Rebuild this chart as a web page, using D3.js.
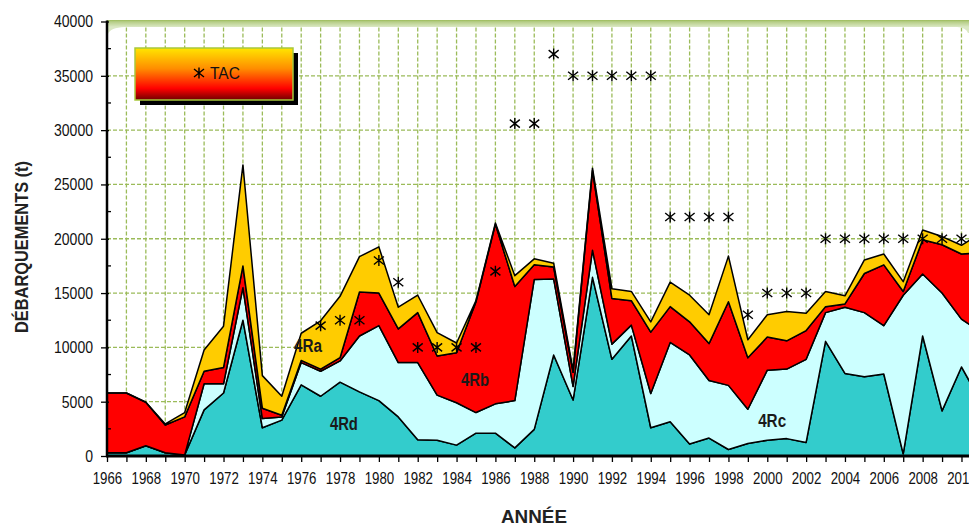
<!DOCTYPE html>
<html>
<head>
<meta charset="utf-8">
<script src="https://cdn.jsdelivr.net/npm/d3@7"></script>
<style>
  body { margin: 0; background: #fff; }
  svg { display: block; }
  .narrow { font-family: "Liberation Sans Narrow", "Arial Narrow", "Liberation Sans", Arial, sans-serif; }
</style>
</head>
<body>
<svg id="chart" width="969" height="527"></svg>
<script>
// years on the x axis
const years = d3.range(1966, 2012);

// landings by division (t), stacked from bottom to top
const r4Rd = [300,300,950,300,100,4250,5800,12500,2600,3300,
              6550,5500,6800,5900,5100,3600,1500,1450,1000,2100,
              2100,750,2450,9300,5150,16450,8900,11050,2600,3150,
              1100,1650,600,1150,1450,1600,1250,10550,7600,7300,
              7550,200,11050,4150,8200,5000];
const r4Rc = [0,0,0,0,0,2400,850,3000,850,300,
              2050,2300,1950,5150,6900,5000,7100,4150,3900,1900,
              2700,4350,13800,7000,1250,2500,1400,1000,3150,7300,
              8200,5300,5900,3150,6450,6400,7650,2650,6100,5900,
              4450,14600,5700,10850,4400,6400];
const r4Rb = [5500,5500,4000,2550,3500,1150,1500,2000,950,150,
              200,200,300,4050,3000,3100,4600,3600,4600,10200,
              16550,10500,1350,1100,1300,7350,4200,2250,5650,3300,
              3050,3400,7700,4750,3050,2600,2650,550,300,3600,
              5600,350,3150,4450,6000,7300];
const r4Ra = [0,0,0,100,400,1950,3800,9300,3000,1750,
              2500,4450,5650,3250,4250,2000,1600,2150,900,100,
              100,1000,550,350,200,200,900,850,950,2250,
              2450,2650,4200,1650,2050,2700,1600,1400,750,1250,
              1000,900,900,750,800,1800];

// TAC
const tacYears = d3.range(1977, 2012);
const tacValues = [12000,12500,12500,18000,16000,10000,10000,10000,10000,17000,
                   30600,30600,37000,35000,35000,35000,35000,35000,22000,22000,
                   22000,22000,13000,15000,15000,15000,20000,20000,20000,20000,
                   20000,20000,20000,20000,20000];

const layerKeys = ["4Rd", "4Rc", "4Rb", "4Ra"];
const layerColors = {"4Rd": "#33cccc", "4Rc": "#ccffff", "4Rb": "#ff0000", "4Ra": "#ffcc00"};
const yTicks = d3.range(0, 40001, 5000);

const W = 969, H = 527;
const x0 = 107, yBase = 456, yTop = 21.5, step = 19.42;

let svg = d3.select("#chart");

let x = d3.scaleLinear().domain([1966, 2011]).range([x0, x0 + 45 * step]);
let y = d3.scaleLinear().domain([0, 40000]).range([yBase, yTop]);

let defs = svg.append("defs");
defs.append("clipPath").attr("id", "plotclip")
  .append("rect").attr("x", x0).attr("y", 0).attr("width", W - x0).attr("height", yBase);

let lg = defs.append("linearGradient").attr("id", "legGrad").attr("x1", 0).attr("y1", 0).attr("x2", 0).attr("y2", 1);
lg.append("stop").attr("offset", "0%").attr("stop-color", "#ffe600");
lg.append("stop").attr("offset", "40%").attr("stop-color", "#ff8c00");
lg.append("stop").attr("offset", "78%").attr("stop-color", "#ff0000");
lg.append("stop").attr("offset", "100%").attr("stop-color", "#700000");

let bg = defs.append("linearGradient").attr("id", "bandGrad").attr("x1", 0).attr("y1", 0).attr("x2", 0).attr("y2", 1);
bg.append("stop").attr("offset", "0%").attr("stop-color", "#9bbb59");
bg.append("stop").attr("offset", "25%").attr("stop-color", "#b5cd85");
bg.append("stop").attr("offset", "100%").attr("stop-color", "#dbe8c4");

// grid
let grid = svg.append("g").attr("clip-path", "url(#plotclip)");
grid.selectAll(".vgrid")
  .data(years.filter(d => d > 1966))
  .enter().append("line")
  .attr("x1", d => x(d)).attr("x2", d => x(d))
  .attr("y1", yTop).attr("y2", yBase)
  .attr("stroke", "#9bbb59").attr("stroke-width", 1.3)
  .attr("stroke-dasharray", "4,2");
grid.selectAll(".hgrid")
  .data(yTicks.filter(d => d > 0 && d < 40000))
  .enter().append("line")
  .attr("x1", x0).attr("x2", W)
  .attr("y1", d => y(d)).attr("y2", d => y(d))
  .attr("stroke", "#9bbb59").attr("stroke-width", 1.3)
  .attr("stroke-dasharray", "4,2");

// stacked areas
let table = years.map((yr, i) => ({year: yr, "4Rd": r4Rd[i], "4Rc": r4Rc[i], "4Rb": r4Rb[i], "4Ra": r4Ra[i]}));
let series = d3.stack().keys(layerKeys)(table);

let area = d3.area()
  .x(d => x(d.data.year))
  .y0(d => y(d[0]))
  .y1(d => y(d[1]));

let plot = svg.append("g").attr("clip-path", "url(#plotclip)");
plot.selectAll(".layer")
  .data(series)
  .enter().append("path")
  .attr("class", "layer")
  .attr("d", area)
  .attr("fill", d => layerColors[d.key])
  .attr("stroke", "#000")
  .attr("stroke-width", 1.5)
  .attr("stroke-linejoin", "round");

// top frame band
svg.append("rect").attr("x", x0).attr("y", 20).attr("width", W - x0).attr("height", 7)
  .attr("fill", "url(#bandGrad)");
svg.append("path").attr("d", `M${x0},27 L${x0 + 18},27 Q${x0 + 3},27.5 ${x0 + 1},34 L${x0},34 Z`)
  .attr("fill", "#dbe8c4");
svg.append("path").attr("d", `M${W},27 L${W - 12},27 Q${W - 3},27.5 ${W - 1},33 L${W},33 Z`)
  .attr("fill", "#dbe8c4");

// TAC markers
let star = "M0,-5.5V5.5M-5,-4L5,4M-5,4L5,-4";
svg.append("g").attr("clip-path", "url(#plotclip)")
  .selectAll(".tac")
  .data(tacYears.map((yr, i) => ({year: yr, v: tacValues[i]})))
  .enter().append("path")
  .attr("transform", d => `translate(${x(d.year)},${y(d.v)})`)
  .attr("d", star)
  .attr("fill", "none").attr("stroke", "#000").attr("stroke-width", 1.4);

// x axis
let xAxis = d3.axisBottom(x)
  .tickValues(years.filter(d => x(d) <= W))
  .tickSize(6)
  .tickFormat(d => d % 2 === 0 ? String(d) : "");
let gx = svg.append("g").attr("transform", `translate(0,${yBase})`).call(xAxis);
gx.select(".domain").remove();
gx.selectAll(".tick line").attr("stroke", "#000").attr("stroke-width", 1.3);
gx.selectAll(".tick text")
  .attr("class", "narrow")
  .attr("font-size", 17).attr("fill", "#111").attr("y", 15.5)
  .filter(d => d % 2 === 0)
  .attr("textLength", 29.5).attr("lengthAdjust", "spacingAndGlyphs");
svg.append("line").attr("x1", x0 - 1).attr("x2", W).attr("y1", yBase).attr("y2", yBase)
  .attr("stroke", "#000").attr("stroke-width", 3);

// y axis
let yAxis = d3.axisLeft(y).tickValues(yTicks).tickSize(7).tickPadding(8).tickFormat(d3.format("d"));
let gy = svg.append("g").attr("transform", `translate(${x0 + 1},0)`).call(yAxis);
gy.select(".domain").remove();
gy.selectAll(".tick line").attr("stroke", "#000").attr("stroke-width", 1.3).attr("x2", -7).attr("x1", 1);
gy.selectAll(".tick text")
  .attr("class", "narrow")
  .attr("font-size", 17).attr("fill", "#111")
  .attr("textLength", d => String(d).length * 7.8).attr("lengthAdjust", "spacingAndGlyphs");
svg.append("g").selectAll(".minor")
  .data(yTicks.slice(0, -1).map(d => d + 2500))
  .enter().append("line")
  .attr("x1", x0).attr("x2", x0 + 4)
  .attr("y1", d => y(d)).attr("y2", d => y(d))
  .attr("stroke", "#000").attr("stroke-width", 1.3);
svg.append("line").attr("x1", x0).attr("x2", x0).attr("y1", yTop - 1).attr("y2", yBase + 1)
  .attr("stroke", "#000").attr("stroke-width", 2.5);

// area labels
let areaLabels = [
  {t: "4Ra", yr: 1976.35, v: 9600},
  {t: "4Rb", yr: 1984.95, v: 6450},
  {t: "4Rd", yr: 1978.2, v: 2400},
  {t: "4Rc", yr: 2000.25, v: 2700}
];
svg.selectAll(".alab")
  .data(areaLabels)
  .enter().append("text")
  .attr("class", "narrow")
  .attr("x", d => x(d.yr)).attr("y", d => y(d.v))
  .attr("text-anchor", "middle")
  .attr("font-size", 18).attr("font-weight", "bold").attr("fill", "#1a1a1a")
  .attr("textLength", 28).attr("lengthAdjust", "spacingAndGlyphs")
  .text(d => d.t);

// axis titles
svg.append("text")
  .attr("class", "narrow")
  .attr("transform", "translate(28,247) rotate(-90)")
  .attr("text-anchor", "middle")
  .attr("font-size", 18).attr("font-weight", "bold").attr("fill", "#222")
  .attr("textLength", 172).attr("lengthAdjust", "spacingAndGlyphs")
  .text("DÉBARQUEMENTS (t)");
svg.append("text")
  .attr("class", "narrow")
  .attr("x", 534).attr("y", 523)
  .attr("text-anchor", "middle")
  .attr("font-size", 18).attr("font-weight", "bold").attr("fill", "#222")
  .attr("textLength", 66).attr("lengthAdjust", "spacingAndGlyphs")
  .text("ANNÉE");

// legend
let leg = svg.append("g").attr("transform", "translate(135,48)");
leg.append("rect").attr("x", 5).attr("y", 5).attr("width", 158).attr("height", 52).attr("fill", "#000");
leg.append("rect").attr("width", 158).attr("height", 52)
  .attr("fill", "url(#legGrad)").attr("stroke", "#a8c83c").attr("stroke-width", 1.5);
leg.append("path").attr("transform", "translate(64,25)").attr("d", star)
  .attr("fill", "none").attr("stroke", "#000").attr("stroke-width", 1.4);
leg.append("text")
  .attr("class", "narrow")
  .attr("x", 75).attr("y", 31)
  .attr("font-size", 17).attr("fill", "#111")
  .attr("textLength", 30).attr("lengthAdjust", "spacingAndGlyphs")
  .text("TAC");
</script>
</body>
</html>
